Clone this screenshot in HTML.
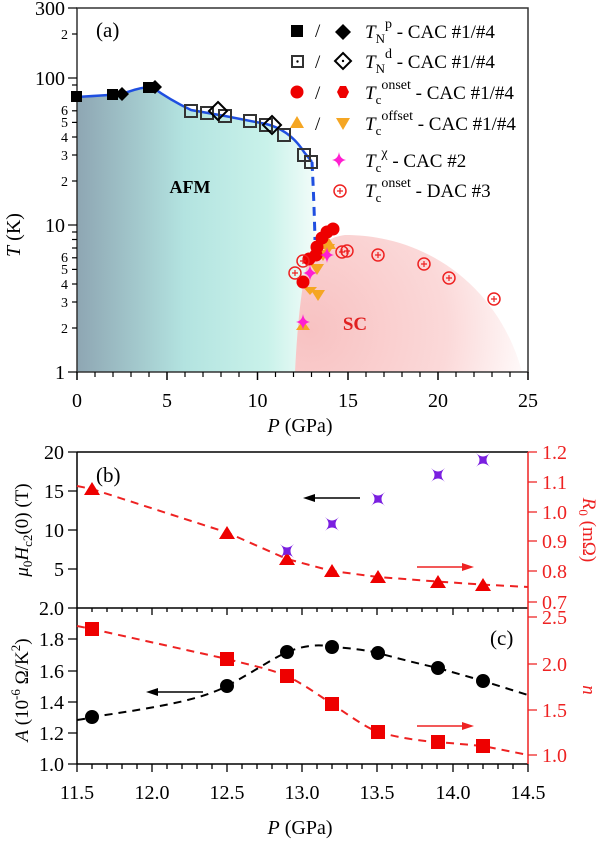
<!DOCTYPE html>
<html><head><meta charset="utf-8"><style>body{margin:0;background:#fff}svg{display:block}svg text,svg tspan{font-family:"Liberation Serif","DejaVu Serif","Times New Roman",serif}</style></head><body>
<svg width="600" height="841" viewBox="0 0 600 841" xmlns="http://www.w3.org/2000/svg" font-family="'Liberation Serif', 'DejaVu Serif', serif">
<defs>
<linearGradient id="afm" x1="77" y1="0" x2="315" y2="0" gradientUnits="userSpaceOnUse">
<stop offset="0" stop-color="#8ea6b3"/><stop offset="0.45" stop-color="#b3e3e0"/><stop offset="0.8" stop-color="#c9f2ea"/><stop offset="1" stop-color="#f2fcf9"/></linearGradient>
<radialGradient id="sc" cx="310" cy="330" r="230" gradientUnits="userSpaceOnUse">
<stop offset="0" stop-color="#f8c2c2"/><stop offset="0.6" stop-color="#fbd9d9"/><stop offset="1" stop-color="#ffffff"/></radialGradient>
</defs>
<path d="M290,372 C289,310 300,240 345,235 C430,235 500,290 522,372 Z" fill="url(#sc)"/>
<path d="M77,97 Q110,95 122,94 Q140,87 152,87 Q170,100 191,110 L225,116 L266,124 Q290,130 304,152 L312,162 Q314,200 315,240 Q300,270 295,372 L77,372 Z" fill="url(#afm)"/>
<rect x="77" y="8" width="451" height="364" fill="none" stroke="#333" stroke-width="1.5"/>
<g stroke="#000" stroke-width="1.5">
<line x1="77" y1="372" x2="77" y2="380"/><line x1="167" y1="372" x2="167" y2="380"/><line x1="257.5" y1="372" x2="257.5" y2="380"/><line x1="348" y1="372" x2="348" y2="380"/><line x1="438" y1="372" x2="438" y2="380"/><line x1="528" y1="372" x2="528" y2="380"/>
</g>
<g stroke="#000" stroke-width="1.2">
<line x1="95" y1="372" x2="95" y2="377"/><line x1="113" y1="372" x2="113" y2="377"/><line x1="131" y1="372" x2="131" y2="377"/><line x1="149" y1="372" x2="149" y2="377"/>
<line x1="185" y1="372" x2="185" y2="377"/><line x1="203" y1="372" x2="203" y2="377"/><line x1="221" y1="372" x2="221" y2="377"/><line x1="239" y1="372" x2="239" y2="377"/>
<line x1="275.5" y1="372" x2="275.5" y2="377"/><line x1="293.5" y1="372" x2="293.5" y2="377"/><line x1="311.5" y1="372" x2="311.5" y2="377"/><line x1="329.5" y1="372" x2="329.5" y2="377"/>
<line x1="366" y1="372" x2="366" y2="377"/><line x1="384" y1="372" x2="384" y2="377"/><line x1="402" y1="372" x2="402" y2="377"/><line x1="420" y1="372" x2="420" y2="377"/>
<line x1="456" y1="372" x2="456" y2="377"/><line x1="474" y1="372" x2="474" y2="377"/><line x1="492" y1="372" x2="492" y2="377"/><line x1="510" y1="372" x2="510" y2="377"/>
<line x1="68" y1="372" x2="77" y2="372"/><line x1="68" y1="225" x2="77" y2="225"/><line x1="68" y1="78" x2="77" y2="78"/><line x1="68" y1="8" x2="77" y2="8"/>
<line x1="72" y1="328" x2="77" y2="328"/><line x1="72" y1="302" x2="77" y2="302"/><line x1="72" y1="284" x2="77" y2="284"/><line x1="72" y1="269.4" x2="77" y2="269.4"/><line x1="72" y1="257.8" x2="77" y2="257.8"/><line x1="72" y1="248" x2="77" y2="248"/><line x1="72" y1="239.5" x2="77" y2="239.5"/><line x1="72" y1="232" x2="77" y2="232"/>
<line x1="72" y1="181" x2="77" y2="181"/><line x1="72" y1="155" x2="77" y2="155"/><line x1="72" y1="137" x2="77" y2="137"/><line x1="72" y1="122.4" x2="77" y2="122.4"/><line x1="72" y1="110.8" x2="77" y2="110.8"/><line x1="72" y1="101" x2="77" y2="101"/><line x1="72" y1="92.5" x2="77" y2="92.5"/><line x1="72" y1="85" x2="77" y2="85"/>
<line x1="72" y1="34" x2="77" y2="34"/>
</g>
<g font-size="20" text-anchor="middle" fill="#000">
<text x="77" y="407">0</text><text x="167" y="407">5</text><text x="257.5" y="407">10</text><text x="348" y="407">15</text><text x="438" y="407">20</text><text x="528" y="407">25</text>
</g>
<g font-size="20" text-anchor="end"><text x="65" y="379">1</text><text x="65" y="232">10</text><text x="65" y="85">100</text><text x="65" y="15">300</text></g>
<g font-size="14" text-anchor="end"><text x="68" y="333">2</text><text x="68" y="307">3</text><text x="68" y="289">4</text><text x="68" y="274">5</text><text x="68" y="262">6</text>
<text x="68" y="186">2</text><text x="68" y="160">3</text><text x="68" y="142">4</text><text x="68" y="127">5</text><text x="68" y="115">6</text><text x="68" y="39">2</text></g>
<text x="20" y="235" font-size="20" transform="rotate(-90 20 235)" text-anchor="middle"><tspan font-style="italic">T</tspan> (K)</text>
<text x="300" y="432" font-size="20" text-anchor="middle"><tspan font-style="italic">P</tspan> (GPa)</text>
<text x="96" y="37" font-size="21">(a)</text>
<text x="190" y="193" font-size="18" font-weight="bold" text-anchor="middle">AFM</text>
<text x="355" y="330" font-size="19" font-weight="bold" fill="#e02020" text-anchor="middle">SC</text>
<path d="M77,97 Q110,95 122,94 Q140,87 152,87 Q170,100 191,110 L225,116 L266,124 Q290,130 304,152 L312,162" fill="none" stroke="#1f4fe0" stroke-width="2.5"/>
<path d="M312,162 Q314,200 315,240" fill="none" stroke="#1f4fe0" stroke-width="3" stroke-dasharray="9,6"/>
<g fill="#000"><rect x="71" y="91" width="11" height="11"/><rect x="107" y="89" width="11" height="11"/><rect x="143" y="82" width="11" height="11"/>
<path d="M122,87 l7,7 -7,7 -7,-7z"/><path d="M155,80 l7,7 -7,7 -7,-7z"/></g>
<g fill="none" stroke="#333" stroke-width="2">
<rect x="185" y="105" width="12" height="12"/><rect x="201" y="107" width="12" height="12"/><rect x="219" y="110" width="12" height="12"/><rect x="244" y="115" width="12" height="12"/><rect x="260" y="119" width="12" height="12"/><rect x="278" y="129" width="12" height="12"/><rect x="298" y="149" width="12" height="12"/><rect x="305" y="156" width="12" height="12"/>
<path d="M218,102 l9,9 -9,9 -9,-9z" stroke="#000"/><path d="M272,116 l9,9 -9,9 -9,-9z" stroke="#000"/></g>
<g fill="#f5a623"><path d="M310,295 l-7,-8 h14z"/><path d="M318,301 l-7,-11 h14z"/><path d="M317,275 l-7,-11 h14z"/><path d="M328,255 l-7,-11 h14z"/><path d="M323,261 l-7,-11 h14z"/><path d="M303,320 l-7,10 h14z"/><path d="M329,238 l-7,11 h14z"/></g>
<g fill="#ee0000"><circle cx="303" cy="282" r="6.5"/><circle cx="316" cy="255" r="6.5"/><circle cx="309" cy="259" r="6.5"/><circle cx="317" cy="247" r="6.5"/><circle cx="322" cy="238" r="6.5"/><circle cx="327" cy="232" r="6.5"/><circle cx="333" cy="229" r="6.5"/></g>
<g fill="#ff1fd0"><path d="M303,314 q1,7 7,8 q-6,1 -7,8 q-1,-7 -7,-8 q6,-1 7,-8z"/><path d="M310,265 q1,7 7,8 q-6,1 -7,8 q-1,-7 -7,-8 q6,-1 7,-8z"/><path d="M327,247 q1,7 7,8 q-6,1 -7,8 q-1,-7 -7,-8 q6,-1 7,-8z"/></g>
<g fill="none" stroke="#ee2222" stroke-width="1.5">
<circle cx="295" cy="273" r="6"/><circle cx="303" cy="261" r="6"/><circle cx="342" cy="252" r="6"/><circle cx="347" cy="251" r="6"/><circle cx="378" cy="255" r="6"/><circle cx="424" cy="264" r="6"/><circle cx="449" cy="278" r="6"/><circle cx="494" cy="299" r="6"/></g>
<g stroke="#ee2222" stroke-width="1.2">
<path d="M292,273h6M295,270v6M300,261h6M303,258v6M339,252h6M342,249v6M344,251h6M347,248v6M375,255h6M378,252v6M421,264h6M424,261v6M446,278h6M449,275v6M491,299h6M494,296v6"/></g>
<g font-size="19">
<rect x="291" y="25" width="12" height="12" fill="#000"/><text x="315" y="37">/</text><path d="M343,24 l8,8 -8,8 -8,-8z" fill="#000"/>
<text x="365" y="38"><tspan font-style="italic">T</tspan><tspan font-size="13" dy="5">N</tspan><tspan font-size="14" dy="-15">p</tspan><tspan dy="10"> - CAC #1/#4</tspan></text>
<rect x="292" y="56" width="11" height="11" fill="none" stroke="#333" stroke-width="2"/><circle cx="297.5" cy="61.5" r="1.2"/><text x="315" y="68">/</text><path d="M343,53 l8,8 -8,8 -8,-8z" fill="none" stroke="#000" stroke-width="2"/><circle cx="343" cy="61" r="1.2"/>
<text x="365" y="68"><tspan font-style="italic">T</tspan><tspan font-size="13" dy="5">N</tspan><tspan font-size="14" dy="-15">d</tspan><tspan dy="10"> - CAC #1/#4</tspan></text>
<circle cx="297" cy="92" r="6.5" fill="#ee0000"/><text x="315" y="99">/</text><path d="M337,92 l3,-6 h6 l3,6 -3,6 h-6z" fill="#ee0000"/>
<text x="365" y="99"><tspan font-style="italic">T</tspan><tspan font-size="13" dy="5">c</tspan><tspan font-size="14" dy="-15">onset</tspan><tspan dy="10"> - CAC #1/#4</tspan></text>
<path d="M297,116 l7,12 h-14z" fill="#f5a623"/><text x="315" y="130">/</text><path d="M343,130 l-7,-12 h14z" fill="#f5a623"/>
<text x="365" y="130"><tspan font-style="italic">T</tspan><tspan font-size="13" dy="5">c</tspan><tspan font-size="14" dy="-15">offset</tspan><tspan dy="10"> - CAC #1/#4</tspan></text>
<path d="M339,152 q1,7 7,8 q-6,1 -7,8 q-1,-7 -7,-8 q6,-1 7,-8z" fill="#ff1fd0"/>
<text x="365" y="167"><tspan font-style="italic">T</tspan><tspan font-size="13" dy="5">c</tspan><tspan font-size="14" dy="-15">χ</tspan><tspan dy="10"> - CAC #2</tspan></text>
<circle cx="340" cy="191" r="6" fill="none" stroke="#ee2222" stroke-width="1.5"/><path d="M337,191h6M340,188v6" stroke="#ee2222" stroke-width="1.2"/>
<text x="365" y="197"><tspan font-style="italic">T</tspan><tspan font-size="13" dy="5">c</tspan><tspan font-size="14" dy="-15">onset</tspan><tspan dy="10"> - DAC #3</tspan></text>
</g>
<g stroke="#000" stroke-width="1.5" fill="none">
<line x1="77" y1="452" x2="528" y2="452"/><line x1="77" y1="608" x2="528" y2="608"/><line x1="77" y1="764" x2="528" y2="764"/><line x1="77" y1="452" x2="77" y2="764"/>
</g>
<line x1="528" y1="452" x2="528" y2="764" stroke="#ee2222" stroke-width="1.5"/>
<g stroke="#000" stroke-width="1.3">
<path d="M68,452h9M68,491h9M68,530h9M68,569h9M68,608h9M68,639h9M68,671h9M68,702h9M68,733h9M68,764h9"/>
<path d="M77,764v8M152,764v8M227,764v8M302,764v8M377,764v8M453,764v8M528,764v8"/>
<path d="M92,764v5M107,764v5M122,764v5M137,764v5M167,764v5M182,764v5M197,764v5M212,764v5M242,764v5M257,764v5M272,764v5M287,764v5M317,764v5M332,764v5M347,764v5M362,764v5M392,764v5M407,764v5M422,764v5M437,764v5M468,764v5M483,764v5M498,764v5M513,764v5"/>
<path d="M152,608v7M227,608v7M302,608v7M377,608v7M453,608v7M92,608v4M107,608v4M122,608v4M137,608v4M167,608v4M182,608v4M197,608v4M212,608v4M242,608v4M257,608v4M272,608v4M287,608v4M317,608v4M332,608v4M347,608v4M362,608v4M392,608v4M407,608v4M422,608v4M437,608v4M468,608v4M483,608v4M498,608v4M513,608v4"/>
</g>
<g stroke="#ee2222" stroke-width="1.3"><path d="M528,452h9M528,482h9M528,512h9M528,541h9M528,571h9M528,602h9M528,617h9M528,664h9M528,710h9M528,755h9"/></g>
<g font-size="20" text-anchor="end">
<text x="64" y="459">20</text><text x="64" y="498">15</text><text x="64" y="537">10</text><text x="64" y="576">5</text><text x="64" y="615">2.0</text><text x="64" y="646">1.8</text><text x="64" y="678">1.6</text><text x="64" y="709">1.4</text><text x="64" y="740">1.2</text><text x="64" y="771">1.0</text></g>
<g font-size="20" fill="#ee2222">
<text x="542" y="459">1.2</text><text x="542" y="489">1.1</text><text x="542" y="519">1.0</text><text x="542" y="548">0.9</text><text x="542" y="578">0.8</text><text x="542" y="609">0.7</text><text x="542" y="624">2.5</text><text x="542" y="671">2.0</text><text x="542" y="717">1.5</text><text x="542" y="762">1.0</text></g>
<g font-size="20" text-anchor="middle">
<text x="77" y="799">11.5</text><text x="152" y="799">12.0</text><text x="227" y="799">12.5</text><text x="302" y="799">13.0</text><text x="377" y="799">13.5</text><text x="453" y="799">14.0</text><text x="528" y="799">14.5</text></g>
<text x="300" y="834" font-size="20" text-anchor="middle"><tspan font-style="italic">P</tspan> (GPa)</text>
<text x="28" y="530" font-size="19" text-anchor="middle" transform="rotate(-90 28 530)"><tspan font-style="italic">μ</tspan><tspan font-size="13" dy="4">0</tspan><tspan font-style="italic" dy="-4">H</tspan><tspan font-size="13" dy="4">c2</tspan><tspan dy="-4">(0) (T)</tspan></text>
<text x="28" y="690" font-size="19" text-anchor="middle" transform="rotate(-90 28 690)"><tspan font-style="italic">A</tspan> (10<tspan font-size="13" dy="-8">-6</tspan><tspan dy="8"> Ω/K</tspan><tspan font-size="13" dy="-8">2</tspan><tspan dy="8">)</tspan></text>
<text x="583" y="530" font-size="19" fill="#ee2222" text-anchor="middle" transform="rotate(90 583 530)"><tspan font-style="italic">R</tspan><tspan font-size="13" dy="4">0</tspan><tspan dy="-4"> (mΩ)</tspan></text>
<text x="583" y="690" font-size="19" fill="#ee2222" font-style="italic" text-anchor="middle" transform="rotate(90 583 690)">n</text>
<text x="96" y="482" font-size="21">(b)</text>
<text x="490" y="645" font-size="21">(c)</text>
<path d="M77,486 L92,489 L227,532.5 L287,559 L332,571 L378,577 L438,581.6 L483,584.6 L528,587" fill="none" stroke="#ee2222" stroke-width="2" stroke-dasharray="8,6"/>
<g fill="#ee0000"><path d="M92,482l8,13h-16z"/><path d="M227,526l8,13h-16z"/><path d="M287,552l8,13h-16z"/><path d="M332,564l8,13h-16z"/><path d="M378,570l8,13h-16z"/><path d="M438,575l8,13h-16z"/><path d="M483,578l8,13h-16z"/></g>
<g fill="#7a1fe0"><path d="M280,544 q7,7 14,0 q-7,7 0,14 q-7,-7 -14,0 q7,-7 0,-14z"/><path d="M325,517 q7,7 14,0 q-7,7 0,14 q-7,-7 -14,0 q7,-7 0,-14z"/><path d="M371,492 q7,7 14,0 q-7,7 0,14 q-7,-7 -14,0 q7,-7 0,-14z"/><path d="M431,468 q7,7 14,0 q-7,7 0,14 q-7,-7 -14,0 q7,-7 0,-14z"/><path d="M476,453 q7,7 14,0 q-7,7 0,14 q-7,-7 -14,0 q7,-7 0,-14z"/></g>
<g stroke-width="1.5">
<line x1="360" y1="498" x2="312" y2="498" stroke="#000"/><path d="M303,498l12,-4v8z" fill="#000"/>
<line x1="417" y1="567" x2="465" y2="567" stroke="#ee2222"/><path d="M474,567l-12,-4v8z" fill="#ee2222"/>
<line x1="203" y1="692" x2="155" y2="692" stroke="#000"/><path d="M146,692l12,-4v8z" fill="#000"/>
<line x1="417" y1="726" x2="465" y2="726" stroke="#ee2222"/><path d="M474,726l-12,-4v8z" fill="#ee2222"/>
</g>
<path d="M77,720 C85,719 88,718 92,717 C160,707 200,700 227,686 C255,671 270,660 287,652 C305,645 320,644 332,647 C350,648 365,650 378,653 C400,659 420,664 438,668 C455,673 470,677 483,681 L528,695" fill="none" stroke="#000" stroke-width="2" stroke-dasharray="8,6"/>
<path d="M77,626 L92,629 L227,659 C250,665 270,669 287,676 C305,685 320,696 332,704 C350,716 365,727 378,732 C400,738 420,741 438,742 L483,746 L528,755" fill="none" stroke="#ee2222" stroke-width="2" stroke-dasharray="8,6"/>
<g fill="#000"><circle cx="92" cy="717" r="7"/><circle cx="227" cy="686" r="7"/><circle cx="287" cy="652" r="7"/><circle cx="332" cy="647" r="7"/><circle cx="378" cy="653" r="7"/><circle cx="438" cy="668" r="7"/><circle cx="483" cy="681" r="7"/></g>
<g fill="#ee0000"><rect x="85" y="622" width="14" height="14"/><rect x="220" y="652" width="14" height="14"/><rect x="280" y="669" width="14" height="14"/><rect x="325" y="697" width="14" height="14"/><rect x="371" y="725" width="14" height="14"/><rect x="431" y="735" width="14" height="14"/><rect x="476" y="739" width="14" height="14"/></g>
</svg>
</body></html>
